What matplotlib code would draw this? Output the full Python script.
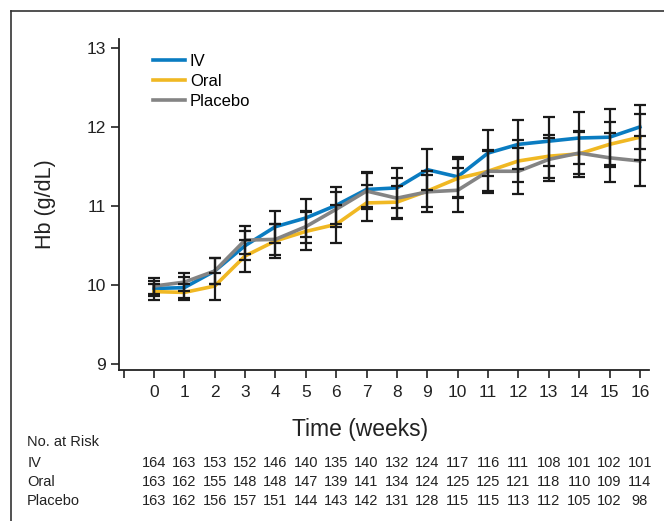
import numpy as np
import matplotlib
matplotlib.use("Agg")
import matplotlib.pyplot as plt
import matplotlib.transforms as mtransforms
from matplotlib.lines import Line2D

plt.rcParams['font.family'] = ['Liberation Sans', 'DejaVu Sans']

weeks = list(range(17))

# mean Hb (g/dL) per group
iv_hb = [9.96, 9.97, 10.18, 10.50, 10.74, 10.85, 11.01, 11.21, 11.23, 11.46, 11.37,
         11.67, 11.78, 11.82, 11.86, 11.87, 12.00]
oral_hb = [9.92, 9.91, 9.99, 10.37, 10.56, 10.68, 10.77, 11.04, 11.05, 11.19, 11.35,
           11.44, 11.57, 11.63, 11.66, 11.78, 11.87]
placebo_hb = [9.99, 10.04, 10.18, 10.57, 10.58, 10.74, 10.96, 11.19, 11.10, 11.18, 11.20,
              11.44, 11.44, 11.59, 11.67, 11.61, 11.57]

# error bar half widths
iv_err = [0.10, 0.13, 0.17, 0.18, 0.20, 0.24, 0.23, 0.22, 0.25, 0.26, 0.25,
          0.29, 0.31, 0.31, 0.33, 0.35, 0.28]
oral_err = [0.10, 0.10, 0.17, 0.20, 0.21, 0.24, 0.24, 0.23, 0.21, 0.20, 0.25,
            0.25, 0.27, 0.27, 0.29, 0.28, 0.29]
placebo_err = [0.10, 0.11, 0.17, 0.18, 0.20, 0.20, 0.22, 0.23, 0.25, 0.26, 0.28,
               0.27, 0.29, 0.27, 0.27, 0.31, 0.31]

# number at risk
iv_risk = [164, 163, 153, 152, 146, 140, 135, 140, 132, 124, 117, 116, 111, 108, 101, 102, 101]
oral_risk = [163, 162, 155, 148, 148, 147, 139, 141, 134, 124, 125, 125, 121, 118, 110, 109, 114]
placebo_risk = [163, 162, 156, 157, 151, 144, 143, 142, 131, 128, 115, 115, 113, 112, 105, 102, 98]

fig = plt.figure(figsize=(6.64, 5.21), dpi=100)
ax = fig.add_axes([0.1792, 0.2898, 0.7982, 0.6353])

series = [
    ('IV', iv_hb, iv_err, '#0a7cc1'),
    ('Oral', oral_hb, oral_err, '#f0b823'),
    ('Placebo', placebo_hb, placebo_err, '#848484'),
]
for name, hb, err, col in series:
    ax.plot(weeks, hb, color=col, lw=2.6, label=name, zorder=3)
for name, hb, err, col in series:
    ax.errorbar(weeks, hb, yerr=err, fmt='none', ecolor='#1a1a1a', elinewidth=1.6,
                capsize=4, capthick=1.6, zorder=4)

ax.set_xlim(-1.15, 16.3)
ax.set_ylim(8.93, 13.11)
ax.set_yticks([9, 10, 11, 12, 13])
ax.set_xticks(range(-1, 17))
ax.set_xticklabels([''] + [str(w) for w in weeks])
for s in ['top', 'right']:
    ax.spines[s].set_visible(False)
for s in ['left', 'bottom']:
    ax.spines[s].set_linewidth(1.3)
    ax.spines[s].set_color('#222222')
ax.tick_params(axis='both', direction='out', length=6, width=1.2, color='#222222',
               labelsize=12.5, labelcolor='#222222')
ax.tick_params(axis='x', pad=5)
ax.set_ylabel('Hb (g/dL)', fontsize=15.5, color='#222222', labelpad=22)

ax.legend(loc='upper left', bbox_to_anchor=(0.052, 0.975), frameon=False, fontsize=12,
          handlelength=1.9, handletextpad=0.3, labelspacing=0.3, borderaxespad=0)

fig.text(0.542, 0.175, 'Time (weeks)', fontsize=16.5, ha='center', va='center', color='#222222')

# at-risk table
narrow = ['Liberation Sans Narrow', 'Liberation Sans', 'DejaVu Sans']
trans = mtransforms.blended_transform_factory(ax.transData, fig.transFigure)
fig.text(0.041, 1 - 442 / 521, 'No. at Risk', fontsize=10.5, family=narrow,
         va='center', color='#222222')
rows = [('IV', iv_risk, 463), ('Oral', oral_risk, 482), ('Placebo', placebo_risk, 501)]
for name, risk, ypx in rows:
    yf = 1 - ypx / 521
    fig.text(0.041, yf, name, fontsize=10.5, family=narrow, va='center', color='#222222')
    for w, n in zip(weeks, risk):
        ax.text(w, yf, str(n), transform=trans, fontsize=10.5, family=narrow,
                ha='center', va='center', color='#222222', clip_on=False)

# outer frame (left and top edges)
fig.add_artist(Line2D([11 / 664, 11 / 664], [0, 1 - 11 / 521], transform=fig.transFigure,
                      color='#333333', lw=1.2))
fig.add_artist(Line2D([11 / 664, 1], [1 - 11 / 521, 1 - 11 / 521], transform=fig.transFigure,
                      color='#333333', lw=1.2))

fig.savefig('out.png', dpi=100)
